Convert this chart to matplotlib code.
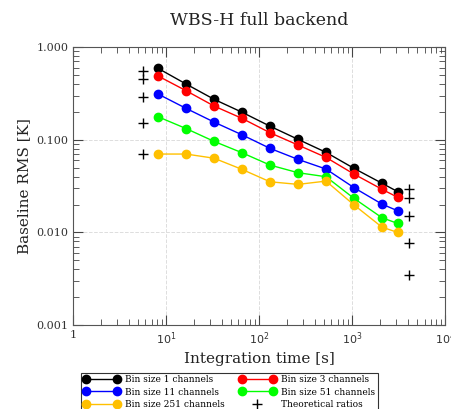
import matplotlib
matplotlib.use("Agg")
from matplotlib import pyplot as plt
from matplotlib.ticker import FixedLocator, FixedFormatter, LogLocator, NullFormatter
from matplotlib.legend_handler import HandlerLine2D
import numpy as np

plt.rcParams['font.family'] = 'DejaVu Serif'

t = [8.2, 16.4, 32.8, 65.5, 131, 262, 524, 1048, 2097, 3100]

rms_1 = [0.589, 0.399, 0.273, 0.198, 0.140, 0.101, 0.0731, 0.0491, 0.0339, 0.0275]
rms_3 = [0.487, 0.338, 0.231, 0.170, 0.119, 0.0877, 0.0645, 0.0426, 0.0292, 0.0239]
rms_11 = [0.311, 0.218, 0.155, 0.113, 0.0807, 0.0614, 0.0483, 0.0304, 0.0202, 0.0171]
rms_51 = [0.177, 0.132, 0.096, 0.0724, 0.0533, 0.0441, 0.0399, 0.0233, 0.0144, 0.0125]
rms_251 = [0.0701, 0.0701, 0.0632, 0.0479, 0.0352, 0.0330, 0.0358, 0.0198, 0.0114, 0.0100]

# theoretical ratios, at both ends of the time range
theo_t = [5.7] * 5 + [4040] * 5
theo_rms = [0.555, 0.452, 0.291, 0.150, 0.0695, 0.0292, 0.0233, 0.0150, 0.0076, 0.00344]

series = [(rms_1, 'black', 'Bin size 1 channels'),
          (rms_3, '#ff0000', 'Bin size 3 channels'),
          (rms_11, '#0000ff', 'Bin size 11 channels'),
          (rms_51, '#00ff00', 'Bin size 51 channels'),
          (rms_251, '#ffc000', 'Bin size 251 channels')]

fig = plt.figure(figsize=(4.51, 4.09), dpi=100)
ax = fig.add_axes([0.162, 0.205, 0.825, 0.68])

lines = []
for vals, c, lab in series:
    l, = ax.plot(t, vals, '-o', color=c, lw=1, ms=6, label=lab)
    lines.append(l)
theo, = ax.plot(theo_t, theo_rms, '+', color='black', ms=7, mew=1, label='Theoretical ratios')
lines.append(theo)

ax.set_xscale('log')
ax.set_yscale('log')
ax.set_xlim(1, 1e4)
ax.set_ylim(0.001, 1)

ax.yaxis.set_major_locator(FixedLocator([0.001, 0.01, 0.1, 1]))
ax.yaxis.set_major_formatter(FixedFormatter(['0.001', '0.010', '0.100', '1.000']))
ax.yaxis.set_minor_locator(LogLocator(base=10, subs=np.arange(2, 10)))
ax.yaxis.set_minor_formatter(NullFormatter())
ax.xaxis.set_major_locator(FixedLocator([1, 10, 100, 1000, 10000]))
ax.xaxis.set_major_formatter(FixedFormatter(['1', r'$10^1$', r'$10^2$', r'$10^3$', r'$10^4$']))
ax.xaxis.set_minor_locator(LogLocator(base=10, subs=np.arange(2, 10)))
ax.xaxis.set_minor_formatter(NullFormatter())

ax.tick_params(which='both', direction='in', top=True, right=True, labelsize=8, colors='#444444', labelcolor='#333333')
ax.tick_params(which='major', length=7)
ax.tick_params(which='minor', length=4)
for s in ax.spines.values():
    s.set_color('#555555')
ax.grid(True, which='major', ls='--', color='#dddddd', lw=0.7)

ax.set_title('WBS-H full backend', fontsize=12.5, pad=16, color='#222222')
ax.set_xlabel('Integration time [s]', fontsize=11, color='#222222')
ax.set_ylabel('Baseline RMS [K]', fontsize=11, color='#222222')

# legend filled row by row: (1, 3), (11, 51), (251, theory)
order = [0, 2, 4, 1, 3, 5]
leg = ax.legend([lines[i] for i in order], [lines[i].get_label() for i in order],
                loc='upper center', bbox_to_anchor=(0.42, -0.155), ncol=2, fontsize=6.5,
                numpoints=2, handler_map={theo: HandlerLine2D(numpoints=1)},
                frameon=True, fancybox=False, edgecolor='black', handlelength=4.0,
                handletextpad=0.6, columnspacing=1.6, labelspacing=0.35, borderpad=0.3)
leg.get_frame().set_linewidth(0.8)

fig.savefig('out.png', dpi=100)
